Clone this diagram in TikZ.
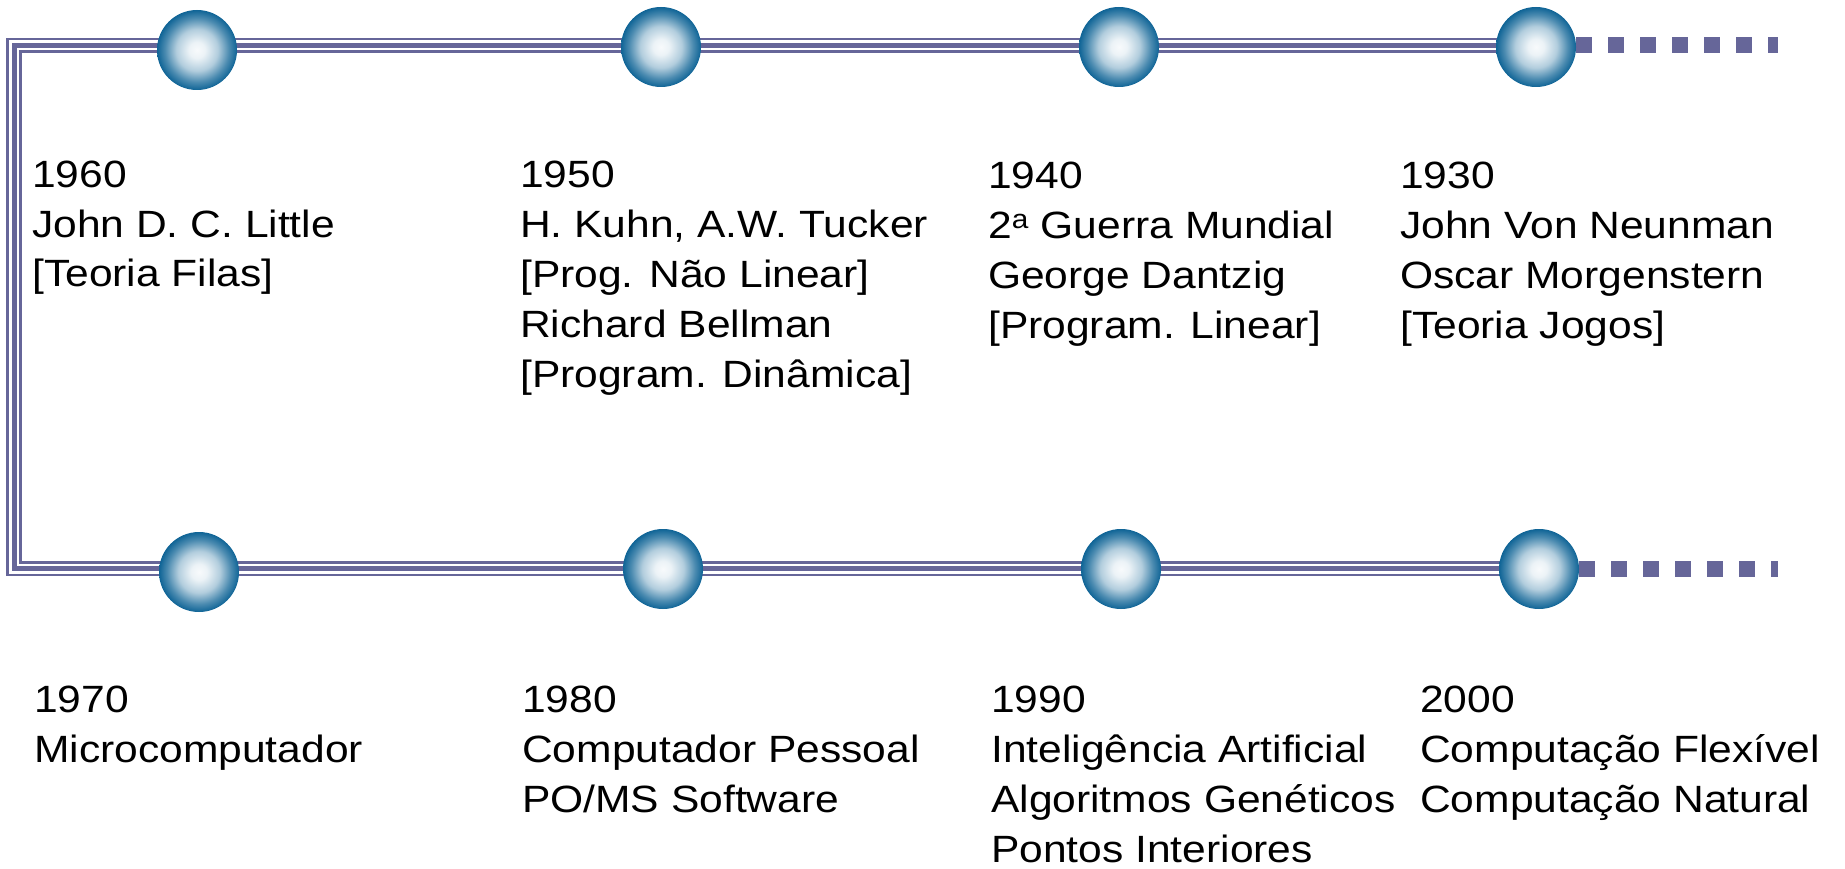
\documentclass[tikz,border=0pt]{standalone}
\usepackage{fontspec}
\setmainfont{Liberation Sans}[FakeStretch=1.12]
\usetikzlibrary{backgrounds}
\definecolor{rail}{RGB}{102,102,153}
\definecolor{globe}{RGB}{15,100,150}
\colorlet{globe0}{white!97!globe}
\colorlet{globe1}{white!92!globe}
\colorlet{globe2}{white!68!globe}
\colorlet{globe3}{white!25!globe}
\pgfdeclareradialshading{globe}{\pgfpoint{0bp}{0bp}}{color(0bp)=(globe0); color(5bp)=(globe1); color(13bp)=(globe2); color(20bp)=(globe3); color(25bp)=(globe); color(50bp)=(globe)}
\begin{document}
\begin{tikzpicture}[x=1pt, y=-1pt,
  main/.style = {circle, inner sep=0pt, minimum size=80pt, shading=globe},
  rail/.style = {draw=rail, line width=15.6pt, line join=miter, postaction={draw=white, line width=10pt}, postaction={draw=rail, line width=5pt}},
  dots/.style = {draw=rail, line width=16pt, dash pattern=on 16pt off 16pt},
  year/.style = {anchor=base west, inner sep=0pt, align=left, font=\fontsize{38}{50}\selectfont}]
  \useasboundingbox (0,0) rectangle (1845,869);
  \coordinate (nw) at (14,45.5);
  \coordinate (sw) at (14,568.5);
  \coordinate (ne) at (1778,45.5);
  \coordinate (se) at (1778,569);
  \node[main] (1) at (197,50) {};
  \node[main] (2) at (661,47) {};
  \node[main] (3) at (1119,47) {};
  \node[main] (4) at (1536,47) {};
  \node[main] (5) at (199,572) {};
  \node[main] (6) at (663,569) {};
  \node[main] (7) at (1121,569) {};
  \node[main] (8) at (1539,569) {};
  \begin{scope}[on background layer]
  \draw[rail] (4 |- nw) -- (nw) -- (sw) -- (8 |- sw);
  \draw[dots] (4.east |- nw) -- (ne);
  \draw[dots] (8.east |- se) -- (se);
  \end{scope}
  \node[year] (1960) at (32,287) {1960\\John D. C. Little\\{[}Teoria Filas]};
  \node[year] (1950) at (520,387) {1950\\H. Kuhn, A.W. Tucker\\{[}Prog. Não Linear]\\Richard Bellman\\{[}Program. Dinâmica]};
  \node[year] (1940) at (988,338) {1940\\2\textsuperscript{a} Guerra Mundial\\George Dantzig\\{[}Program. Linear]};
  \node[year] (1930) at (1400,338) {1930\\John Von Neunman\\Oscar Morgenstern\\{[}Teoria Jogos]};
  \node[year] (1970) at (34,762) {1970\\Microcomputador};
  \node[year] (1980) at (522,812) {1980\\Computador Pessoal\\PO/MS Software};
  \node[year] (1990) at (991,862) {1990\\Inteligência Artificial\\Algoritmos Genéticos\\Pontos Interiores};
  \node[year] (2000) at (1420,812) {2000\\Computação Flexível\\Computação Natural};
\end{tikzpicture}
\end{document}
